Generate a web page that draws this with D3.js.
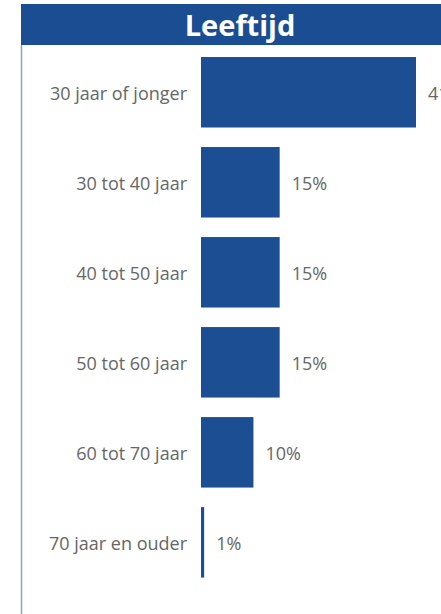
<!DOCTYPE html>
<html>
<head>
<meta charset="utf-8">
<script src="https://cdn.jsdelivr.net/npm/d3@7"></script>
<style>
  html, body { margin: 0; padding: 0; background: #ffffff; overflow: hidden; }
  svg { display: block; }
</style>
</head>
<body>
<script>
const title = "Leeftijd";
const categories = ["30 jaar of jonger", "30 tot 40 jaar", "40 tot 50 jaar", "50 tot 60 jaar", "60 tot 70 jaar", "70 jaar en ouder"];
const values = [41, 15, 15, 15, 10, 0.6];
const valueLabels = ["41%", "15%", "15%", "15%", "10%", "1%"];

const W = 441, H = 614;
const svg = d3.select("body").append("svg").attr("width", W).attr("height", H);

// header
svg.append("rect").attr("x", 21).attr("y", 4).attr("width", W - 21).attr("height", 41).attr("fill", "#1b4d92");
svg.append("text").attr("x", 240).attr("y", 36).attr("text-anchor", "middle")
  .attr("fill", "#ffffff").attr("font-family", "'Open Sans', sans-serif").attr("font-weight", 700)
  .attr("font-size", 29).text(title);

// left border
svg.append("line").attr("x1", 21.5).attr("x2", 21.5).attr("y1", 45).attr("y2", H)
  .attr("stroke", "#8aa3c8").attr("stroke-width", 1.5);

const x = d3.scaleLinear().domain([0, 41]).range([201, 416]);
const y = d3.scaleBand().domain(categories).range([47.3, 587.3]).paddingInner(0.217).paddingOuter(0.108);

const g = svg.append("g");
g.selectAll("rect.bar").data(categories).join("rect").attr("class", "bar")
  .attr("x", x(0)).attr("y", d => y(d))
  .attr("width", (d, i) => x(values[i]) - x(0)).attr("height", y.bandwidth())
  .attr("fill", "#1c4e93");

const yAxis = d3.axisLeft(y).tickSize(0).tickPadding(14);
const ax = svg.append("g").attr("transform", `translate(${x(0)},0)`).call(yAxis);
ax.select(".domain").remove();
ax.selectAll("text").attr("fill", "#666666").attr("font-family", "'Open Sans', sans-serif").attr("font-size", 18)
  .attr("dy", "0.42em");

g.selectAll("text.val").data(categories).join("text").attr("class", "val")
  .attr("x", (d, i) => x(values[i]) + 12).attr("y", d => y(d) + y.bandwidth() / 2)
  .attr("dy", "0.42em").attr("fill", "#666666")
  .attr("font-family", "'Open Sans', sans-serif").attr("font-size", 18)
  .text((d, i) => valueLabels[i]);
</script>
</body>
</html>
